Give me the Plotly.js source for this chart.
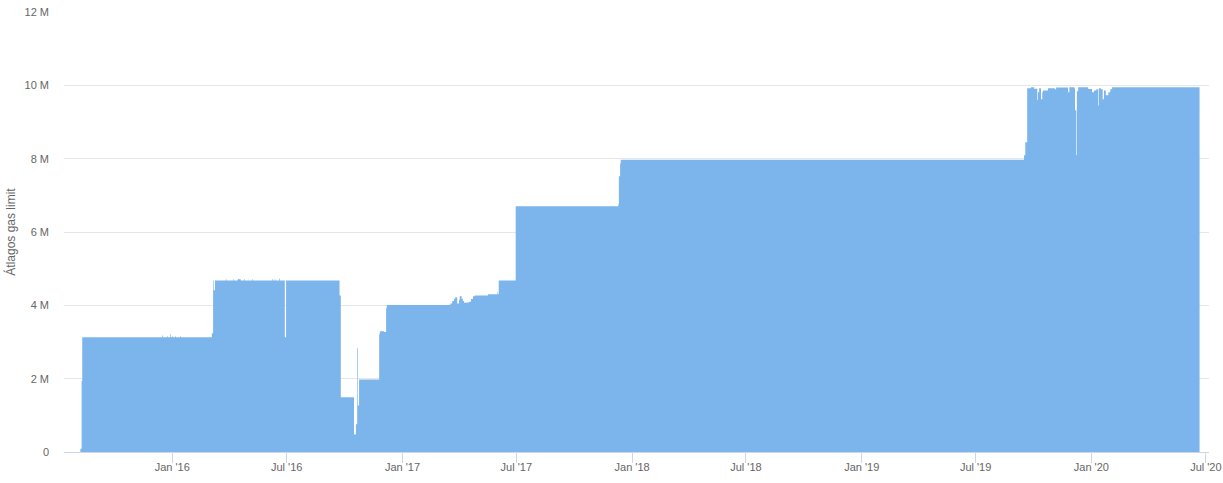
<!DOCTYPE html>
<html>
<head>
<meta charset="utf-8">
<script src="https://cdn.plot.ly/plotly-3.0.1.min.js"></script>
<style>
  html, body { margin: 0; padding: 0; background: #ffffff; }
  #chart { width: 1223px; height: 483px; }
</style>
</head>
<body>
<div id="chart"></div>
<script>
// Change points of the daily average gas limit (step series)
const dates = [
  '2015-08-08','2015-08-10','2015-08-11',
  '2015-12-16','2015-12-17','2015-12-24','2015-12-25','2015-12-29','2015-12-30',
  '2016-01-01','2016-01-02','2016-01-06','2016-01-07','2016-01-14','2016-01-15',
  '2016-03-04','2016-03-06','2016-03-07','2016-03-09',
  '2016-03-26','2016-03-27','2016-04-07','2016-04-08','2016-04-14','2016-04-19',
  '2016-04-24','2016-04-25','2016-05-07','2016-05-08','2016-06-08','2016-06-09',
  '2016-06-12','2016-06-13','2016-06-19','2016-06-20',
  '2016-06-28','2016-06-30',
  '2016-09-23','2016-09-25','2016-10-16','2016-10-19','2016-10-21','2016-10-22',
  '2016-10-24','2016-11-25','2016-11-26','2016-12-03','2016-12-06','2016-12-07',
  '2017-03-18','2017-03-21','2017-03-24','2017-03-26','2017-03-29','2017-04-01',
  '2017-04-02','2017-04-05','2017-04-07','2017-04-09','2017-04-13','2017-04-17',
  '2017-04-20','2017-04-23','2017-04-26','2017-05-17','2017-06-01','2017-06-02',
  '2017-06-03','2017-06-30',
  '2017-12-10','2017-12-11','2017-12-13','2017-12-14',
  '2019-09-16','2019-09-18','2019-09-21','2019-09-27','2019-10-02','2019-10-07',
  '2019-10-08','2019-10-10','2019-10-13','2019-10-15','2019-10-16','2019-10-24',
  '2019-11-04','2019-11-06','2019-11-25','2019-11-27','2019-12-05','2019-12-06',
  '2019-12-08','2019-12-09','2019-12-11','2019-12-27','2020-01-02','2020-01-05',
  '2020-01-09','2020-01-12','2020-01-13','2020-01-16','2020-01-19','2020-01-21',
  '2020-01-24','2020-01-28','2020-01-31','2020-02-03','2020-06-21'
];
const gasLimit = [
  90000, 1930000, 3130000,
  3180000, 3130000, 3160000, 3130000, 3210000, 3130000,
  3160000, 3130000, 3160000, 3130000, 3160000, 3130000,
  3240000, 4680000, 4410000, 4680000,
  4710000, 4680000, 4710000, 4680000, 4710000, 4680000,
  4710000, 4680000, 4710000, 4680000, 4710000, 4680000,
  4710000, 4680000, 4730000, 4680000,
  3130000, 4680000,
  4270000, 1490000, 480000, 760000, 2830000, 1270000,
  1980000, 3210000, 3290000, 3270000, 3920000, 4010000,
  4050000, 4120000, 4180000, 4220000, 4050000, 4150000,
  4250000, 4180000, 4120000, 4070000, 4080000, 4100000,
  4170000, 4250000, 4270000, 4300000, 4360000, 4300000,
  4680000, 6700000,
  6750000, 7520000, 7870000, 7970000,
  8090000, 8450000, 9920000, 9950000, 9910000, 9600000,
  9810000, 9920000, 9620000, 9810000, 9860000, 9920000,
  9890000, 9940000, 9810000, 9950000, 9920000, 9320000,
  8090000, 9840000, 9950000, 9900000, 9810000, 9860000,
  9890000, 9450000, 9920000, 9890000, 9620000, 9860000,
  9730000, 9810000, 9890000, 9950000, 9950000
];

const xTickVals = ['2016-01-01','2016-07-01','2017-01-01','2017-07-01','2018-01-01',
                   '2018-07-01','2019-01-01','2019-07-01','2020-01-01','2020-07-01'];
const xTickText = ["Jan '16","Jul '16","Jan '17","Jul '17","Jan '18",
                   "Jul '18","Jan '19","Jul '19","Jan '20","Jul '20"];
const yTickVals = [0, 2000000, 4000000, 6000000, 8000000, 10000000, 12000000];
const yTickText = ['0','2 M','4 M','6 M','8 M','10 M','12 M'];

const font = 'Liberation Sans, Arial, Helvetica, sans-serif';

const trace = {
  type: 'scatter',
  mode: 'lines',
  x: dates,
  y: gasLimit,
  line: { shape: 'hv', width: 0, color: 'rgb(124,181,236)' },
  fill: 'tozeroy',
  fillcolor: 'rgb(124,181,236)',
  hoverinfo: 'x+y'
};

const layout = {
  width: 1223,
  height: 483,
  margin: { l: 64, r: 14, t: 12, b: 31, pad: 0 },
  paper_bgcolor: '#ffffff',
  plot_bgcolor: '#ffffff',
  showlegend: false,
  font: { family: font, size: 11, color: '#666666' },
  xaxis: {
    type: 'date',
    range: ['2015-07-13', '2020-07-06'],
    tickmode: 'array',
    tickvals: xTickVals,
    ticktext: xTickText,
    showgrid: false,
    zeroline: false,
    showline: true,
    linecolor: '#ccd6eb',
    linewidth: 1,
    ticks: 'outside',
    ticklen: 10,
    tickwidth: 1,
    tickcolor: '#ccd6eb',
    ticklabelstandoff: -5,
    tickfont: { family: font, size: 11, color: '#666666' },
    fixedrange: true
  },
  yaxis: {
    range: [0, 12000000],
    tickmode: 'array',
    tickvals: yTickVals,
    ticktext: yTickText,
    showgrid: true,
    gridcolor: '#e6e6e6',
    gridwidth: 1,
    zeroline: false,
    showline: false,
    ticks: '',
    ticklabelstandoff: 14,
    tickfont: { family: font, size: 11, color: '#666666' },
    title: { text: 'Átlagos gas limit', font: { family: font, size: 12, color: '#666666' }, standoff: 6 },
    automargin: false,
    fixedrange: true
  }
};

Plotly.newPlot('chart', [trace], layout, { displayModeBar: false, staticPlot: true });
</script>
</body>
</html>
